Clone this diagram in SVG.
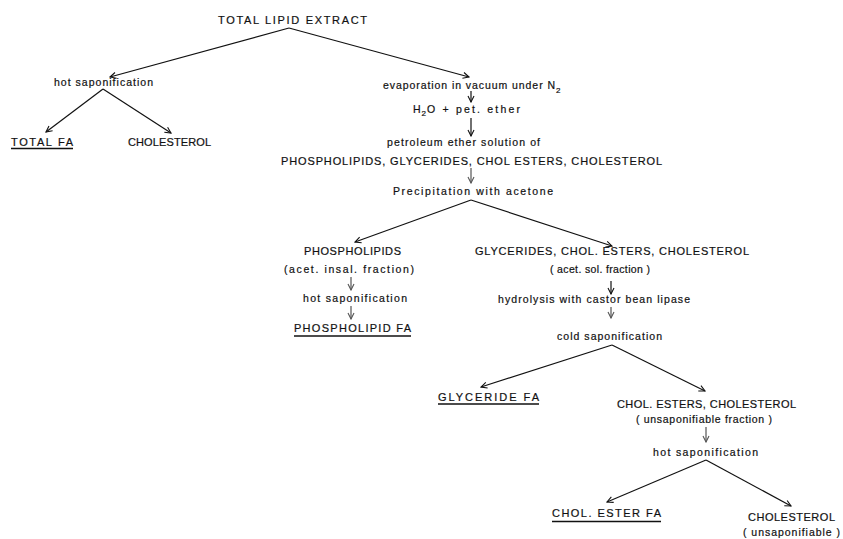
<svg xmlns="http://www.w3.org/2000/svg" width="843" height="539" viewBox="0 0 843 539">
<defs>
<marker id="ah" markerWidth="8" markerHeight="8" refX="7" refY="4" orient="auto" markerUnits="userSpaceOnUse">
<path d="M1,1 L7,4 L1,7" fill="none" stroke="#111" stroke-width="1.1"/>
</marker>
<marker id="ahg" markerWidth="8" markerHeight="8" refX="7" refY="4" orient="auto" markerUnits="userSpaceOnUse">
<path d="M1,1 L7,4 L1,7" fill="none" stroke="#555" stroke-width="1.1"/>
</marker>
<style>
text{font-family:"Liberation Sans",Arial,sans-serif;fill:#111;text-anchor:middle;stroke:#111;stroke-width:0.2}
.c{font-size:11px}
.l{font-size:10.5px}
.sub{font-size:8px;text-anchor:start}
.st{text-anchor:start}
.ln{stroke:#111;stroke-width:1.2;fill:none;marker-end:url(#ah)}
.lg{stroke:#555;stroke-width:1.2;fill:none;marker-end:url(#ahg)}
.ul{stroke:#111;stroke-width:1.4}
</style>
</defs>
<rect width="843" height="539" fill="#fff"/>
<g id="connectors">
<line class="ln" x1="289" y1="28" x2="110" y2="77"/>
<line class="ln" x1="289" y1="28" x2="469" y2="77"/>
<line class="ln" x1="103" y1="89" x2="46" y2="132"/>
<line class="ln" x1="103" y1="89" x2="171" y2="133"/>
<line class="ln" x1="471" y1="91" x2="471" y2="102"/>
<line class="ln" x1="471" y1="118" x2="471" y2="136"/>
<line class="lg" x1="471" y1="168" x2="471" y2="183"/>
<line class="ln" x1="471" y1="200" x2="355" y2="242"/>
<line class="ln" x1="471" y1="200" x2="612" y2="246"/>
<line class="lg" x1="351" y1="277" x2="351" y2="290"/>
<line class="lg" x1="351" y1="306" x2="351" y2="319"/>
<line class="ln" x1="611" y1="281" x2="611" y2="294"/>
<line class="lg" x1="611" y1="307" x2="611" y2="318"/>
<line class="ln" x1="612" y1="345" x2="481" y2="387"/>
<line class="ln" x1="612" y1="345" x2="705" y2="391"/>
<line class="lg" x1="706" y1="427" x2="706" y2="442"/>
<line class="ln" x1="706" y1="460" x2="607" y2="502"/>
<line class="ln" x1="706" y1="460" x2="791" y2="506"/>
</g>
<g id="total-lipid-extract"><text class="c" x="292.5" y="24" textLength="149">TOTAL LIPID EXTRACT</text></g>
<g id="hot-sap-1"><text class="l" x="103.5" y="86" textLength="99">hot saponification</text></g>
<g id="total-fa"><text class="c" x="42" y="146" textLength="62">TOTAL FA</text><line class="ul" x1="11" y1="148.5" x2="73" y2="148.5"/></g>
<g id="cholesterol-1"><text class="c" x="169.5" y="146" textLength="83">CHOLESTEROL</text></g>
<g id="evaporation"><text class="l st" x="383" y="89" textLength="172">evaporation in vacuum under N</text><text class="sub" x="556" y="93">2</text></g>
<g id="h2o-pet-ether"><text class="l st" x="413" y="113">H</text><text class="sub" x="421.5" y="116">2</text><text class="l st" x="427" y="113" textLength="93">O + pet. ether</text></g>
<g id="pet-ether-solution"><text class="l" x="463.5" y="146" textLength="153">petroleum ether solution of</text><text class="c" x="471.5" y="165" textLength="381">PHOSPHOLIPIDS, GLYCERIDES, CHOL ESTERS, CHOLESTEROL</text></g>
<g id="precipitation"><text class="l" x="473" y="195" textLength="160">Precipitation with acetone</text></g>
<g id="phospholipids"><text class="c" x="352.5" y="255" textLength="97">PHOSPHOLIPIDS</text><text class="l" x="349" y="273" textLength="130">(acet. insal. fraction)</text></g>
<g id="hot-sap-2"><text class="l" x="355" y="302" textLength="104">hot saponification</text></g>
<g id="phospholipid-fa"><text class="c" x="352.5" y="332" textLength="117">PHOSPHOLIPID FA</text><line class="ul" x1="294" y1="336" x2="411" y2="336"/></g>
<g id="glycerides-chol"><text class="c" x="612" y="255" textLength="274">GLYCERIDES, CHOL. ESTERS, CHOLESTEROL</text><text class="l" x="600" y="273" textLength="100">( acet. sol. fraction )</text></g>
<g id="hydrolysis"><text class="l" x="594" y="303" textLength="192">hydrolysis with castor bean lipase</text></g>
<g id="cold-sap"><text class="l" x="609.5" y="340" textLength="105">cold saponification</text></g>
<g id="glyceride-fa"><text class="c" x="488.5" y="401" textLength="101">GLYCERIDE FA</text><line class="ul" x1="438" y1="404" x2="539" y2="404"/></g>
<g id="chol-esters-cholesterol"><text class="c" x="706.5" y="408" textLength="179">CHOL. ESTERS, CHOLESTEROL</text><text class="l" x="704" y="423" textLength="136">( unsaponifiable fraction )</text></g>
<g id="hot-sap-3"><text class="l" x="705.5" y="456" textLength="105">hot saponification</text></g>
<g id="chol-ester-fa"><text class="c" x="606.5" y="517" textLength="109">CHOL. ESTER FA</text><line class="ul" x1="552" y1="521.5" x2="661" y2="521.5"/></g>
<g id="cholesterol-2"><text class="c" x="791.5" y="521" textLength="87">CHOLESTEROL</text><text class="l" x="791.5" y="536" textLength="97">( unsaponifiable )</text></g>
</svg>
